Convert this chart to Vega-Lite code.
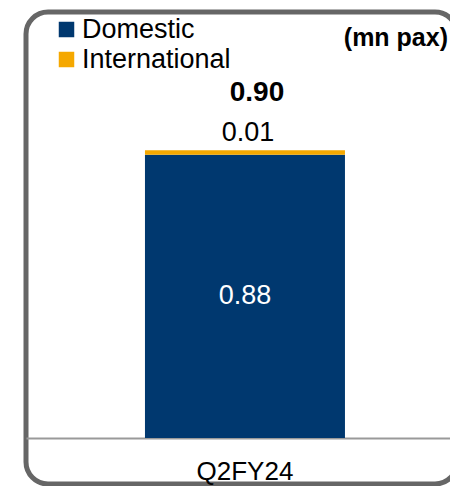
{
  "$schema": "https://vega.github.io/schema/vega-lite/v6.json",
  "width": 431,
  "height": 472,
  "autosize": "none",
  "padding": {"left": 26, "top": 12, "right": -7, "bottom": 2},
  "background": "white",
  "title": {
    "text": "(mn pax)",
    "anchor": "end",
    "fontSize": 25,
    "fontWeight": "bold",
    "color": "#000000",
    "baseline": "alphabetic",
    "dx": -9,
    "offset": -59
  },
  "datasets": {
    "bars": [
      {"quarter": "Q2FY24", "segment": "Domestic", "value": 0.884},
      {"quarter": "Q2FY24", "segment": "International", "value": 0.014}
    ],
    "totals": [
      {"quarter": "Q2FY24", "total": 0.898, "international": 0.014}
    ]
  },
  "encoding": {
    "x": {
      "field": "quarter",
      "type": "nominal",
      "scale": {"paddingInner": 0, "paddingOuter": 0.5775, "align": 0.515},
      "axis": {
        "title": null,
        "offset": -46,
        "domainColor": "#999999",
        "domainWidth": 2,
        "ticks": false,
        "labelAngle": 0,
        "labelFontSize": 26,
        "labelColor": "#000000",
        "labelPadding": 20,
        "grid": false
      }
    }
  },
  "layer": [
    {
      "data": {"name": "bars"},
      "mark": {"type": "bar", "width": 200},
      "encoding": {
        "y": {
          "field": "value",
          "type": "quantitative",
          "stack": "zero",
          "scale": {"domain": [-0.1436, 1.3294], "nice": false, "zero": false},
          "axis": null
        },
        "color": {
          "field": "segment",
          "type": "nominal",
          "scale": {"domain": ["Domestic", "International"], "range": ["#00386F", "#F5A800"]},
          "legend": {
            "orient": "none",
            "legendX": 27,
            "legendY": 4,
            "title": null,
            "padding": 0,
            "symbolType": "square",
            "symbolSize": 240,
            "symbolStrokeWidth": 0,
            "symbolOpacity": 1,
            "labelFontSize": 27,
            "labelColor": "#000000",
            "labelOffset": 2,
            "rowPadding": 2
          }
        },
        "order": {"field": "segment", "sort": "ascending"}
      }
    },
    {
      "data": {"name": "bars"},
      "transform": [{"filter": "datum.segment === 'Domestic'"}],
      "mark": {"type": "text", "fontSize": 27, "color": "#ffffff", "baseline": "middle"},
      "encoding": {
        "y": {"field": "value", "type": "quantitative", "stack": "zero", "bandPosition": 0.5},
        "text": {"field": "value", "type": "quantitative", "format": ".2f"}
      }
    },
    {
      "data": {"name": "totals"},
      "mark": {"type": "text", "fontSize": 27, "color": "#000000", "baseline": "alphabetic", "dy": -9.5, "dx": 3},
      "encoding": {
        "y": {"field": "total", "type": "quantitative"},
        "text": {"field": "international", "type": "quantitative", "format": ".2f"}
      }
    },
    {
      "data": {"name": "totals"},
      "mark": {"type": "text", "fontSize": 28, "fontWeight": "bold", "color": "#000000", "baseline": "alphabetic", "dy": -49, "dx": 12},
      "encoding": {
        "y": {"field": "total", "type": "quantitative"},
        "text": {"field": "total", "type": "quantitative", "format": ".2f"}
      }
    }
  ],
  "config": {
    "font": "Liberation Sans",
    "view": {"stroke": "#666666", "strokeWidth": 5, "cornerRadius": 22}
  }
}
